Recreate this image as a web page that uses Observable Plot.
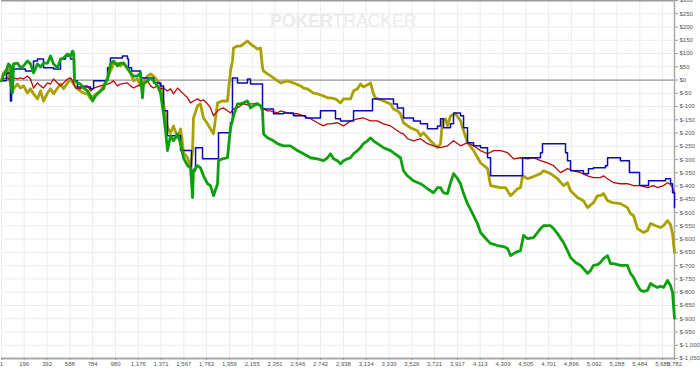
<!DOCTYPE html>
<html>
<head>
<meta charset="utf-8">
<script src="https://cdn.jsdelivr.net/npm/d3@7"></script>
<script src="https://cdn.jsdelivr.net/npm/@observablehq/plot@0.6"></script>
<style>
  html, body { margin: 0; padding: 0; background: #fff; }
  #wrap { position: relative; width: 700px; height: 370px; overflow: hidden; }
  #wm { position: absolute; left: 270px; top: 11px; font-family: "Liberation Sans", Arial, sans-serif;
        font-size: 18px; color: #ebebeb; letter-spacing: -0.3px; white-space: nowrap; }
  #wm b { font-weight: 700; }
</style>
</head>
<body>
<div id="wrap"><div id="wm"><b>POKER</b>TRACKER</div></div>
<script>
// X-axis tick labels (hands) and Y-axis ticks (dollars)
const xTicks = [1,196,392,588,784,980,1176,1371,1567,1763,1959,2155,2351,2546,2742,2938,3134,3330,3526,3721,3917,4113,4309,4505,4701,4896,5092,5288,5484,5680,5782];
const yTicks = d3.range(-1050, 301, 50);

// Red series (hands, $)
const redH = [1,18,53,78,104,138,164,190,224,250,276,310,336,362,396,422,448,482,508,534,568,594,611,637,680,705,740,766,792,851,912,937,963,997,1023,1083,1109,1135,1169,1221,1255,1281,1307,1341,1367,1393,1427,1453,1478,1513,1539,1564,1599,1625,1650,1685,1710,1736,1771,1796,1822,1857,1882,1908,1942,1968,1994,2028,2054,2080,2114,2140,2166,2200,2226,2252,2286,2312,2372,2398,2458,2509,2543,2595,2655,2715,2767,2801,2827,2887,2939,2999,3059,3110,3171,3231,3282,3343,3402,3428,3454,3488,3540,3600,3660,3712,3772,3832,3884,3944,4004,4056,4116,4176,4228,4287,4348,4400,4459,4519,4571,4631,4691,4743,4803,4863,4915,4975,5035,5086,5146,5172,5207,5258,5318,5378,5430,5490,5550,5602,5636,5688,5722,5748,5765,5782];
const redV = [-3,4,8,-3,8,4,8,4,15,4,-30,-11,-22,-30,-11,-15,4,-11,-22,-11,4,8,-3,-30,-33,-22,-22,-41,-30,-22,-15,-11,-3,-22,-15,-11,-22,-30,-22,-15,-3,-22,-30,-22,-33,-30,-41,-33,-52,-30,-41,-52,-67,-86,-79,-71,-79,-75,-90,-105,-135,-116,-109,-105,-116,-124,-109,-105,-97,-90,-94,-90,-90,-86,-97,-109,-116,-116,-124,-116,-124,-127,-127,-135,-146,-161,-173,-165,-165,-161,-173,-154,-146,-143,-154,-154,-165,-173,-191,-199,-203,-221,-229,-221,-240,-248,-255,-248,-229,-248,-236,-248,-266,-278,-266,-266,-274,-297,-293,-297,-293,-304,-312,-323,-349,-334,-342,-349,-361,-368,-368,-361,-372,-387,-391,-391,-398,-398,-406,-398,-406,-398,-387,-394,-406,-425];

// Blue series (hands, $) - step changes
const blueH = [1,44,78,87,104,207,276,310,362,448,508,551,594,628,654,766,792,894,912,937,1040,1083,1092,1118,1195,1212,1307,1367,1393,1427,1539,1633,1668,1728,1865,1968,1985,2028,2114,2140,2243,2337,2423,2509,2612,2741,2870,2913,3025,3188,3368,3402,3454,3540,3600,3660,3746,3772,3798,3858,3884,3944,3970,4004,4056,4116,4176,4202,4477,4631,4648,4829,4846,4863,4889,5000,5043,5086,5189,5207,5318,5395,5482,5559,5705,5748,5765,5782];
const blueV = [-3,27,-79,27,42,34,72,79,46,42,79,91,79,-3,-26,-33,-3,-3,46,83,91,79,46,34,8,8,-11,-22,-116,-210,-266,-342,-255,-297,-199,-161,8,-11,4,-15,-109,-127,-124,-135,-143,-116,-146,-154,-116,-71,-90,-105,-143,-154,-165,-184,-173,-146,-180,-165,-124,-135,-180,-236,-248,-255,-293,-361,-293,-274,-240,-240,-274,-304,-342,-353,-334,-331,-323,-293,-304,-349,-398,-380,-372,-391,-425,-481];

// Olive series (hands, $)
const oliveH = [1,18,53,78,95,104,138,164,190,224,250,276,310,336,362,396,422,448,482,508,534,568,594,620,654,705,740,766,792,851,877,912,937,963,997,1023,1049,1083,1109,1135,1169,1195,1221,1255,1281,1307,1341,1367,1393,1427,1453,1478,1513,1539,1556,1564,1599,1625,1642,1650,1685,1710,1736,1771,1796,1822,1857,1899,1942,1968,1985,1994,2028,2054,2080,2114,2140,2166,2200,2226,2243,2252,2286,2337,2398,2458,2509,2569,2595,2629,2681,2715,2767,2801,2827,2870,2913,2939,2999,3025,3059,3085,3110,3145,3171,3196,3213,3282,3343,3368,3402,3428,3454,3514,3574,3600,3626,3686,3746,3772,3789,3815,3832,3858,3901,3944,3970,4004,4056,4116,4176,4202,4287,4331,4374,4434,4459,4477,4519,4571,4631,4657,4717,4777,4829,4863,4889,4949,5000,5035,5086,5121,5146,5172,5207,5249,5318,5378,5404,5430,5464,5516,5550,5576,5636,5662,5688,5722,5748,5765,5782];
const oliveV = [-3,27,42,-15,-41,-33,-15,-30,-22,-49,-33,-52,-71,-41,-79,-49,-33,-52,-30,-15,-33,-11,4,-15,-33,-49,-52,-71,-60,-41,-22,8,34,61,64,53,64,42,27,-3,4,-22,-3,15,23,15,-3,-15,-90,-180,-199,-173,-218,-184,-240,-274,-293,-331,-266,-143,-97,-90,-143,-165,-184,-203,-86,-79,-79,34,72,121,128,128,136,147,136,128,117,121,46,34,23,8,-11,-3,-11,-22,-30,-33,-49,-52,-60,-67,-67,-71,-86,-71,-71,-41,-33,-15,-26,-18,-11,-52,-67,-79,-90,-109,-116,-127,-161,-180,-191,-210,-199,-229,-255,-240,-154,-146,-173,-135,-127,-154,-191,-236,-266,-312,-334,-398,-406,-406,-436,-410,-406,-361,-372,-364,-353,-342,-353,-372,-398,-387,-417,-443,-455,-481,-462,-436,-436,-428,-455,-462,-466,-481,-504,-511,-560,-575,-567,-541,-552,-556,-549,-530,-545,-579,-650];

// Green series (hands, $)
const greenH = [1,18,35,61,78,87,95,104,138,164,190,224,250,276,310,336,362,396,422,448,482,508,534,568,594,611,620,628,654,680,705,740,766,783,809,826,851,877,894,912,937,963,997,1023,1049,1083,1109,1135,1169,1195,1212,1221,1255,1281,1307,1341,1367,1393,1410,1427,1453,1478,1513,1539,1564,1599,1625,1642,1650,1685,1710,1736,1771,1796,1822,1857,1865,1899,1942,1968,1994,2028,2054,2080,2114,2140,2166,2200,2226,2243,2252,2286,2337,2372,2423,2483,2543,2595,2655,2715,2767,2801,2827,2853,2887,2913,2939,2973,2999,3025,3059,3085,3110,3145,3171,3196,3231,3282,3343,3402,3428,3454,3488,3540,3600,3626,3660,3712,3746,3772,3798,3832,3858,3884,3918,3944,3970,4004,4056,4090,4116,4176,4202,4262,4314,4348,4374,4417,4459,4485,4519,4571,4605,4631,4657,4717,4743,4777,4829,4863,4889,4932,4975,5000,5035,5061,5086,5121,5146,5172,5207,5232,5258,5318,5378,5404,5430,5464,5490,5516,5550,5576,5602,5636,5662,5688,5722,5748,5765,5782];
const greenV = [-3,19,27,61,53,-33,-49,61,64,46,53,72,61,27,61,49,64,64,91,61,46,79,83,98,91,109,102,-3,-11,-15,-30,-41,-60,-79,-60,-52,-41,-33,-11,4,61,72,53,64,64,46,27,15,15,27,-67,-15,-3,8,-3,-22,-49,-127,-191,-266,-210,-229,-203,-240,-293,-323,-331,-443,-342,-323,-331,-361,-391,-398,-436,-391,-304,-297,-293,-180,-135,-90,-90,-86,-79,-105,-97,-90,-97,-116,-203,-218,-229,-240,-248,-248,-266,-278,-293,-297,-304,-293,-278,-297,-304,-316,-304,-297,-293,-278,-266,-255,-240,-229,-218,-229,-240,-255,-266,-285,-293,-342,-361,-380,-391,-398,-410,-425,-406,-406,-425,-428,-387,-353,-372,-391,-428,-466,-511,-541,-575,-605,-616,-624,-628,-635,-662,-650,-643,-586,-598,-594,-575,-560,-549,-549,-560,-579,-613,-643,-669,-688,-699,-711,-729,-718,-699,-696,-688,-673,-662,-692,-692,-699,-699,-729,-744,-775,-793,-797,-793,-767,-775,-782,-778,-782,-756,-775,-801,-898];

const toRows = (H, V) => H.map((h, i) => ({h, v: V[i]}));
const red = toRows(redH, redV);
const blue = toRows(blueH, blueV);
const olive = toRows(oliveH, oliveV);
const green = toRows(greenH, greenV);

const fmtInt = d3.format(",");
const fmtDollar = v => v < 0 ? "$-" + fmtInt(-v) : "$" + fmtInt(v);

const chart = Plot.plot({
  width: 700,
  height: 370,
  marginLeft: 1,
  marginRight: 26,
  marginTop: 0,
  marginBottom: 12,
  style: {background: "transparent", fontFamily: "Liberation Sans, Arial, sans-serif", fontSize: "6px", color: "#555", overflow: "visible"},
  x: {domain: [1, 5782], label: null},
  y: {domain: [-1050, 300], label: null},
  marks: [
    Plot.gridX(xTicks, {stroke: "#ececec", strokeOpacity: 1}),
    Plot.gridY(yTicks, {stroke: "#ececec", strokeOpacity: 1}),
    Plot.ruleY([300], {stroke: "#9a9a9a", strokeWidth: 2}),
    Plot.ruleY([0], {stroke: "#999", strokeWidth: 1.2}),
    Plot.ruleX([5782], {stroke: "#aaa", strokeWidth: 1.5}),
    Plot.ruleY([-1050], {stroke: "#aaa", strokeWidth: 2}),
    Plot.axisX({ticks: xTicks, tickFormat: d => fmtInt(d), tickSize: 2, tickPadding: 1, stroke: "#999", fill: "#555", fontSize: 6, label: null}),
    Plot.axisY({anchor: "right", ticks: yTicks, tickFormat: fmtDollar, tickSize: 3, tickPadding: 2, stroke: "#999", fill: "#555", fontSize: 6, label: null}),
    Plot.line(olive, {x: "h", y: "v", stroke: "#a9a100", strokeWidth: 2.8, strokeLinejoin: "round"}),
    Plot.line(red, {x: "h", y: "v", stroke: "#b40a0a", strokeWidth: 1.3}),
    Plot.line(blue, {x: "h", y: "v", stroke: "#0a0ab4", strokeWidth: 1.5, curve: "step-after"}),
    Plot.line(green, {x: "h", y: "v", stroke: "#0ca00c", strokeWidth: 2.8, strokeLinejoin: "round"})
  ]
});
chart.style.position = "absolute";
chart.style.left = "0px";
chart.style.top = "0px";
document.getElementById("wrap").appendChild(chart);
</script>
</body>
</html>
